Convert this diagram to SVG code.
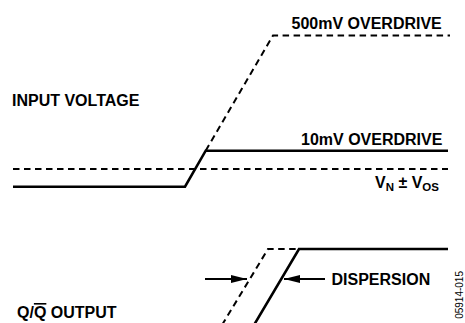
<svg xmlns="http://www.w3.org/2000/svg" width="465" height="323" viewBox="0 0 465 323">
<defs>
<style>
.lbl{font-family:"Liberation Sans",Arial,Helvetica,sans-serif;font-weight:bold;font-size:16px;fill:#000}
.sub{font-size:11.5px}
.solid{fill:none;stroke:#000;stroke-width:2.6;stroke-linejoin:miter}
.dash{fill:none;stroke:#000;stroke-width:2;stroke-dasharray:6.5 4.5}
.arr{fill:none;stroke:#000;stroke-width:2}
.code{font-family:"Liberation Sans",Arial,sans-serif;font-size:10px;fill:#000}
</style>
<marker id="ah" viewBox="0 0 16 8" refX="16" refY="4" markerWidth="16" markerHeight="8" markerUnits="userSpaceOnUse" orient="auto">
<path d="M0,0 L16,4 L0,8 Z" fill="#000"/>
</marker>
</defs>
<g id="connectors">
<polyline class="dash" points="205.7,150.7 273,35.5 450,35.5"/>
<polyline class="solid" points="13,186.7 185,186.7 205.7,150.7 448,150.7"/>
<line class="dash" x1="13" y1="169" x2="448" y2="169"/>
<polyline class="dash" points="222,325 268,249 299,249"/>
<polyline class="solid" points="254,325 299,249 448,249"/>
<line class="arr" x1="205" y1="279" x2="247" y2="279" marker-end="url(#ah)"/>
<line class="arr" x1="325" y1="279" x2="284" y2="279" marker-end="url(#ah)"/>
</g>
<g id="label-input"><text class="lbl" x="12" y="106">INPUT VOLTAGE</text></g>
<g id="label-500mv"><text class="lbl" x="291.5" y="29">500mV OVERDRIVE</text></g>
<g id="label-10mv"><text class="lbl" x="301" y="145">10mV OVERDRIVE</text></g>
<g id="label-vn"><text class="lbl" x="375" y="188.3">V<tspan class="sub" dy="3">N</tspan><tspan dy="-3"> ± V</tspan><tspan class="sub" dy="3">OS</tspan></text></g>
<g id="label-output"><text class="lbl" x="17" y="318">Q/<tspan style="text-decoration:overline">Q</tspan> OUTPUT</text></g>
<g id="label-dispersion"><text class="lbl" x="331.5" y="284.5">DISPERSION</text></g>
<g id="code"><text class="code" text-anchor="end" transform="translate(463,271) rotate(-90)">05914-015</text></g>
</svg>
